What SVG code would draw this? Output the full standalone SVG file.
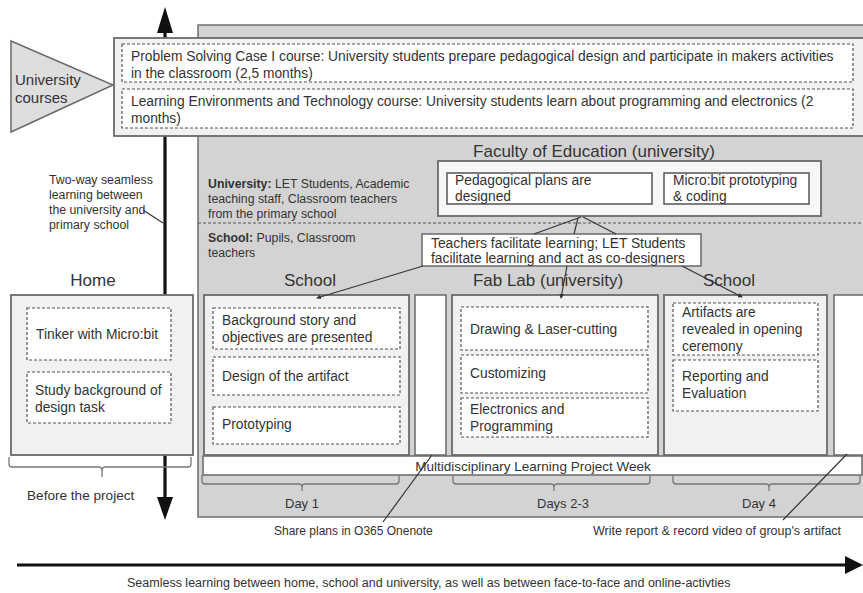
<svg xmlns="http://www.w3.org/2000/svg" width="863" height="593" viewBox="0 0 863 593">
  <defs>
    <style>
      text { font-family: "Liberation Sans", Arial, sans-serif; fill: #333; }
      .panel { fill: #d3d3d3; stroke: #6f6f6f; stroke-width: 1.5; }
      .box { fill: #f1f1f1; stroke: #6a6a6a; stroke-width: 1.8; }
      .white { fill: #fff; stroke: #6a6a6a; stroke-width: 1.5; }
      .dash { fill: #fff; stroke: #555; stroke-width: 1.2; stroke-dasharray: 3 2; }
      .solid { fill: #fff; stroke: #555; stroke-width: 1.5; }
      .t { font-size: 13.8px; }
      .s { font-size: 12.3px; }
      .h { font-size: 17px; text-anchor: middle; }
      .day { font-size: 13px; }
      .conn { stroke: #333; stroke-width: 1.2; fill: none; }
      .brace { stroke: #777; stroke-width: 1.3; fill: none; }
      .axis { stroke: #111; stroke-width: 3.2; fill: none; }
    </style>
    <marker id="tip" viewBox="0 0 6 6" refX="5" refY="3" markerWidth="4" markerHeight="4" orient="auto">
      <path d="M0,0 L6,3 L0,6 z" fill="#333"/>
    </marker>
  </defs>

  <rect width="863" height="593" fill="#fff"/>

  <!-- background panel for the project space -->
  <rect id="project-panel" class="panel" x="198" y="25" width="670" height="492"/>

  <!-- vertical axis: university / primary school -->
  <g id="vertical-axis">
    <line class="axis" x1="165" y1="30" x2="165" y2="500"/>
    <polygon points="165,7 157,33 173,33" fill="#111"/>
    <polygon points="165,520 157,497 173,497" fill="#111"/>
  </g>

  <!-- horizontal axis -->
  <g id="horizontal-axis">
    <line class="axis" x1="17" y1="565" x2="848" y2="565"/>
    <polygon points="863,565 845,556 845,574" fill="#111"/>
    <text x="127" y="587" style="font-size:12.5px">Seamless learning between home, school and university, as well as between face-to-face and online-activties</text>
  </g>

  <!-- university courses -->
  <g id="courses">
    <rect class="box" x="114" y="38" width="755" height="98"/>
    <rect class="dash" x="122" y="44" width="731" height="38"/>
    <rect class="dash" x="122" y="89" width="731" height="39"/>
    <text class="t" x="131" y="61">Problem Solving Case I course: University students prepare pedagogical design and participate in makers activities</text>
    <text class="t" x="131" y="78">in the classroom (2,5 months)</text>
    <text class="t" x="131" y="106">Learning Environments and Technology course: University students learn about programming and electronics (2</text>
    <text class="t" x="131" y="123">months)</text>
  </g>
  <g id="university-courses">
    <polygon points="11,41 113,85 11,132" fill="#dedede" stroke="#6a6a6a" stroke-width="1.5"/>
    <text x="15" y="85" style="font-size:15px">University</text>
    <text x="15" y="103" style="font-size:15px">courses</text>
  </g>

  <!-- two-way note -->
  <g id="two-way-note">
    <text class="s" x="49" y="184">Two-way seamless</text>
    <text class="s" x="49" y="199">learning between</text>
    <text class="s" x="49" y="214">the university and</text>
    <text class="s" x="49" y="229">primary school</text>
  </g>

  <!-- participants -->
  <g id="participants">
    <text class="s" x="208" y="188"><tspan font-weight="bold">University:</tspan> LET Students, Academic</text>
    <text class="s" x="208" y="203">teaching staff, Classroom teachers</text>
    <text class="s" x="208" y="218">from the primary school</text>
    <line x1="198" y1="223" x2="863" y2="223" stroke="#555" stroke-width="1.2" stroke-dasharray="3 2"/>
    <text class="s" x="208" y="242"><tspan font-weight="bold">School:</tspan> Pupils, Classroom</text>
    <text class="s" x="208" y="257">teachers</text>
  </g>

  <!-- faculty of education -->
  <g id="faculty">
    <text class="h" x="594" y="157">Faculty of Education (university)</text>
    <rect x="438" y="161" width="383" height="55" fill="#f7f7f7" stroke="#6a6a6a" stroke-width="1.8"/>
    <rect class="solid" x="447" y="173" width="205" height="31"/>
    <text class="t" x="455" y="185">Pedagogical plans are</text>
    <text class="t" x="455" y="201">designed</text>
    <rect class="solid" x="664" y="173" width="145" height="31"/>
    <text class="t" x="673" y="185">Micro:bit prototyping</text>
    <text class="t" x="673" y="201">&amp; coding</text>
  </g>

  <!-- facilitation -->
  <g id="facilitation">
    <rect class="white" x="422" y="234" width="279" height="32"/>
    <text class="t" x="431" y="248">Teachers facilitate learning; LET Students</text>
    <text class="t" x="431" y="263">facilitate learning and act as co-designers</text>
  </g>

  <!-- home -->
  <g id="home">
    <text class="h" x="93" y="286">Home</text>
    <rect class="box" x="11" y="295" width="182" height="160"/>
    <rect class="dash" x="27" y="308" width="144" height="52"/>
    <text class="t" x="36" y="339">Tinker with Micro:bit</text>
    <rect class="dash" x="27" y="372" width="144" height="51"/>
    <text class="t" x="35" y="395">Study background of</text>
    <text class="t" x="35" y="412">design task</text>
    <path class="brace" d="M9,457 v7 q0,3 3,3 H99 q3,0 3,4 q0,-4 3,-4 H188 q3,0 3,-3 v-7 M102,471 v6"/>
    <text x="27" y="500" style="font-size:13.6px">Before the project</text>
  </g>

  <!-- school, day 1 -->
  <g id="school-day1">
    <text class="h" x="310" y="286">School</text>
    <rect class="box" x="204" y="295" width="205" height="160"/>
    <rect class="dash" x="213" y="308" width="187" height="41"/>
    <text class="t" x="222" y="325">Background story and</text>
    <text class="t" x="222" y="342">objectives are presented</text>
    <rect class="dash" x="213" y="357" width="187" height="38"/>
    <text class="t" x="222" y="381">Design of the artifact</text>
    <rect class="dash" x="213" y="407" width="187" height="37"/>
    <text class="t" x="222" y="429">Prototyping</text>
  </g>

  <rect id="gap-1" class="white" x="415" y="295" width="31" height="160"/>

  <!-- fab lab, days 2-3 -->
  <g id="fablab">
    <text class="h" x="548" y="286">Fab Lab (university)</text>
    <rect class="box" x="452" y="295" width="206" height="160"/>
    <rect class="dash" x="461" y="307" width="187" height="43"/>
    <text class="t" x="470" y="334">Drawing &amp; Laser-cutting</text>
    <rect class="dash" x="461" y="355" width="187" height="38"/>
    <text class="t" x="470" y="378">Customizing</text>
    <rect class="dash" x="461" y="398" width="187" height="39"/>
    <text class="t" x="470" y="414">Electronics and</text>
    <text class="t" x="470" y="431">Programming</text>
  </g>

  <!-- school, day 4 -->
  <g id="school-day4">
    <text class="h" x="729" y="286">School</text>
    <rect class="box" x="664" y="295" width="163" height="160"/>
    <rect class="dash" x="673" y="303" width="145" height="52"/>
    <text class="t" x="682" y="317">Artifacts are</text>
    <text class="t" x="682" y="334">revealed in opening</text>
    <text class="t" x="682" y="351">ceremony</text>
    <rect class="dash" x="673" y="360" width="145" height="51"/>
    <text class="t" x="682" y="381">Reporting and</text>
    <text class="t" x="682" y="398">Evaluation</text>
  </g>

  <rect id="gap-2" class="white" x="834" y="295" width="35" height="160"/>

  <!-- project week -->
  <g id="project-week">
    <rect class="white" x="203" y="456" width="659" height="19"/>
    <text x="533" y="471" style="font-size:13.5px" text-anchor="middle">Multidisciplinary Learning Project Week</text>
    <path class="brace" d="M202,475 v6 q0,3 3,3 H299 q3,0 3,3 q0,-3 3,-3 H396 q3,0 3,-3 v-6 M302,487 v4"/>
    <text class="day" x="285" y="508">Day 1</text>
    <path class="brace" d="M453,475 v6 q0,3 3,3 H551 q3,0 3,3 q0,-3 3,-3 H647 q3,0 3,-3 v-6 M554,487 v4"/>
    <text class="day" x="537" y="508">Days 2-3</text>
    <path class="brace" d="M673,475 v6 q0,3 3,3 H766 q3,0 3,3 q0,-3 3,-3 H857 q3,0 3,-3 v-6 M769,487 v4"/>
    <text class="day" x="742" y="508">Day 4</text>
  </g>

  <!-- online notes -->
  <g id="online-notes">
    <text x="274" y="535" style="font-size:12px">Share plans in O365 Onenote</text>
    <text x="593" y="535" style="font-size:12.5px">Write report &amp; record video of group's artifact</text>
  </g>

  <!-- connectors -->
  <g id="connectors">
    <line class="conn" x1="143" y1="210" x2="163" y2="223"/>
    <line class="conn" x1="534" y1="234" x2="581" y2="217"/>
    <line class="conn" x1="574" y1="234" x2="578" y2="218"/>
    <line class="conn" x1="616" y1="234" x2="583" y2="217"/>
    <line class="conn" x1="423" y1="266" x2="317" y2="298" marker-end="url(#tip)"/>
    <line class="conn" x1="567" y1="266" x2="561" y2="298" marker-end="url(#tip)"/>
    <line class="conn" x1="682" y1="266" x2="742" y2="297" marker-end="url(#tip)"/>
    <line class="conn" x1="383" y1="522" x2="432" y2="455"/>
    <line class="conn" x1="783" y1="520" x2="847" y2="454"/>
  </g>
</svg>
